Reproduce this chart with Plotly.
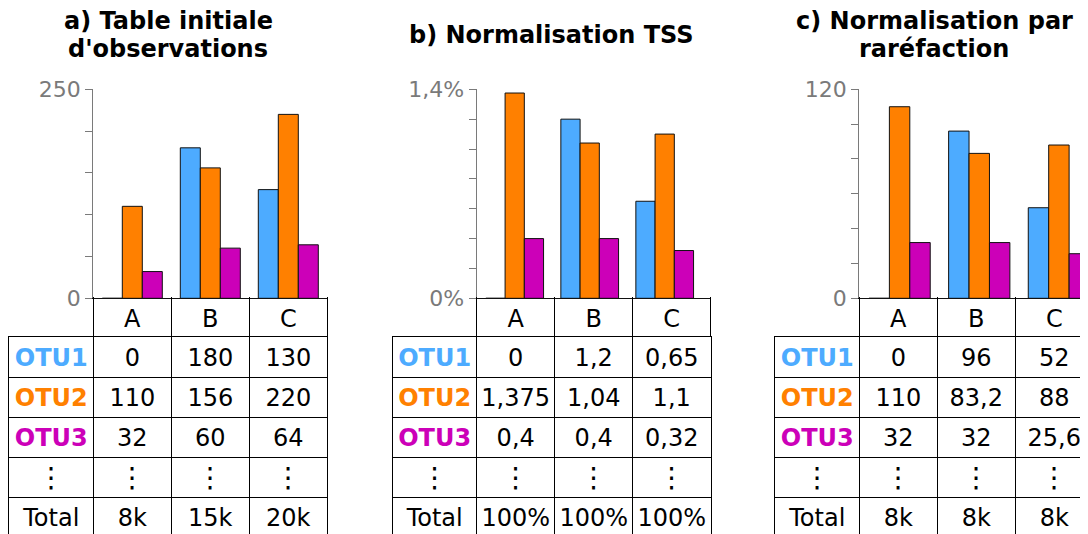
import plotly.graph_objects as go

# ---------------- data ----------------
categories = ["A", "B", "C"]
otu_names = ["OTU1", "OTU2", "OTU3"]

raw_otu1 = [0, 180, 130]
raw_otu2 = [110, 156, 220]
raw_otu3 = [32, 60, 64]
raw_total = ["8k", "15k", "20k"]

tss_otu1 = [0, 1.2, 0.65]
tss_otu2 = [1.375, 1.04, 1.1]
tss_otu3 = [0.4, 0.4, 0.32]
tss_total = ["100%", "100%", "100%"]

rar_otu1 = [0, 96, 52]
rar_otu2 = [110, 83.2, 88]
rar_otu3 = [32, 32, 25.6]
rar_total = ["8k", "8k", "8k"]

panel_titles = [["a) Table initiale", "d'observations"],
                ["b) Normalisation TSS"],
                ["c) Normalisation par", "raréfaction"]]
y_max = [250, 1.4, 120]
y_step = [50, 0.2, 20]
y_top_label = ["250", "1,4%", "120"]
y_zero_label = ["0", "0%", "0"]
dots_row = "⋮"
total_label = "Total"

# ---------------- styles / geometry ----------------
OFF = 8  # page body margin of the browser
W, H = 1088 - OFF, 534 - OFF
otu_colors = ["#4dabff", "#ff8000", "#cc00b8"]
FONT = "DejaVu Sans"
GRAY = "#7a7a7a"

axis_x = [93.3, 476.7, 859.3]
bar_c0 = [132.3, 514.7, 899.6]
bar_unit = [78, 75, 79.65]
col_w = 78
label_w = 84
top_y = 89.3
zero_y = 298.3
header_bottom = 337.3
row_h = 40.0
text_dy = 3.0 / row_h  # visual baseline nudge of table texts
page_w, page_h = 1088, 534


def px(x):
    return (x - OFF) / W


def py(y):
    return 1 - (y - OFF) / H


def fmt(v):
    return f"{v:g}".replace(".", ",")


panels = [
    ([raw_otu1, raw_otu2, raw_otu3], raw_total),
    ([tss_otu1, tss_otu2, tss_otu3], tss_total),
    ([rar_otu1, rar_otu2, rar_otu3], rar_total),
]

fig = go.Figure()
layout = dict(
    width=W, height=H, margin=dict(l=0, r=0, t=0, b=0, autoexpand=False),
    paper_bgcolor="white", plot_bgcolor="rgba(0,0,0,0)",
    showlegend=False, barmode="group", bargap=18 / 78, bargroupgap=0,
    font=dict(family=FONT, size=24, color="black"),
    annotations=[],
)

for k, (series, totals) in enumerate(panels):
    bx, by = f"x{2*k+1}", f"y{2*k+1}"
    tx, ty = f"x{2*k+2}", f"y{2*k+2}"
    bxa, bya = f"xaxis{2*k+1}", f"yaxis{2*k+1}"
    txa, tya = f"xaxis{2*k+2}", f"yaxis{2*k+2}"

    right = min(axis_x[k] + 3 * col_w, page_w)
    left_lab = axis_x[k] - label_w

    # ---- bars ----
    for s, vals in enumerate(series):
        fig.add_trace(go.Bar(
            x=categories, y=vals, name=otu_names[s], xaxis=bx, yaxis=by,
            marker=dict(color=otu_colors[s], line=dict(color="#111111", width=1)),
            hoverinfo="skip",
        ))

    c0 = bar_c0[k]
    u = bar_unit[k]
    nt = int(round(y_max[k] / y_step[k]))
    tickvals = [i * y_step[k] for i in range(nt + 1)]
    ticktext = [y_zero_label[k]] + [""] * (nt - 1) + [y_top_label[k]]
    layout[bxa] = dict(
        domain=[px(axis_x[k]), px(right)], anchor=by, type="category",
        range=[(axis_x[k] - c0) / u, (right - c0) / u],
        showline=True, linecolor="#111111", linewidth=1, automargin=False,
        ticks="", showticklabels=False, showgrid=False, zeroline=False,
    )
    layout[bya] = dict(
        domain=[py(zero_y), py(top_y)], anchor=bx, range=[0, y_max[k]],
        tickmode="array", tickvals=tickvals, ticktext=ticktext,
        ticks="outside", ticklen=7, tickcolor=GRAY, tickwidth=1,
        showline=True, linecolor=GRAY, linewidth=1.3, automargin=False,
        tickfont=dict(size=22, color=GRAY, family=FONT),
        showgrid=False, zeroline=False,
    )

    # ---- table ----
    cA = axis_x[k] + col_w / 2  # x=0 of table axis (center of column A)
    lab_x = ((left_lab + axis_x[k]) / 2 - cA) / col_w
    rows = []
    for s, vals in enumerate(series):
        rows.append((f"<b>{otu_names[s]}</b>", otu_colors[s], [fmt(v) for v in vals], 24))
    rows.append((dots_row, "black", [dots_row] * 3, 28))
    rows.append((total_label, "black", list(totals), 24))

    for r, (lab, col, vals, fsize) in enumerate(rows):
        fig.add_trace(go.Scatter(
            x=[lab_x, 0, 1, 2], y=[r + text_dy] * 4, mode="text",
            text=[lab] + vals, textposition="middle center",
            textfont=dict(size=fsize, family=FONT, color=[col, "black", "black", "black"]),
            xaxis=tx, yaxis=ty, hoverinfo="skip", cliponaxis=False,
        ))

    bottom_r = (page_h - header_bottom) / row_h - 0.5
    layout[txa] = dict(
        domain=[px(left_lab), px(right)], anchor=ty, side="top",
        range=[(left_lab - cA) / col_w, (right - cA) / col_w],
        showline=True, linecolor="black", linewidth=1, automargin=False,
        tickmode="array", tickvals=[0, 1, 2], ticktext=categories,
        tickfont=dict(size=24, color="black", family=FONT),
        ticks="", showgrid=False, zeroline=False,
        minor=dict(tickmode="array", tickvals=[-0.5, 0.5, 1.5, 2.5],
                   ticks="outside", ticklen=39, tickcolor="black", tickwidth=1,
                   showgrid=True, gridcolor="black", gridwidth=1),
    )
    layout[tya] = dict(
        domain=[0, py(header_bottom)], anchor=tx,
        range=[bottom_r, -0.5], automargin=False,
        showline=True, linecolor="black", linewidth=1, mirror=(k < 2),
        showticklabels=False, ticks="", showgrid=False, zeroline=False,
        minor=dict(tickmode="array", tickvals=[0.5, 1.5, 2.5, 3.5],
                   showgrid=True, gridcolor="black", gridwidth=1),
    )

    # ---- title ----
    center_x = (left_lab + axis_x[k] + 3 * col_w) / 2
    lines = panel_titles[k]
    ys = [21.5, 49.5] if len(lines) == 2 else [34.5]
    for line, yy in zip(lines, ys):
        layout["annotations"].append(dict(
            text=f"<b>{line}</b>", x=px(center_x), y=py(yy),
            xref="paper", yref="paper", xanchor="center", yanchor="middle",
            showarrow=False, font=dict(size=24, family=FONT, color="black"),
        ))

fig.update_layout(**layout)
fig.write_html("out.html")
